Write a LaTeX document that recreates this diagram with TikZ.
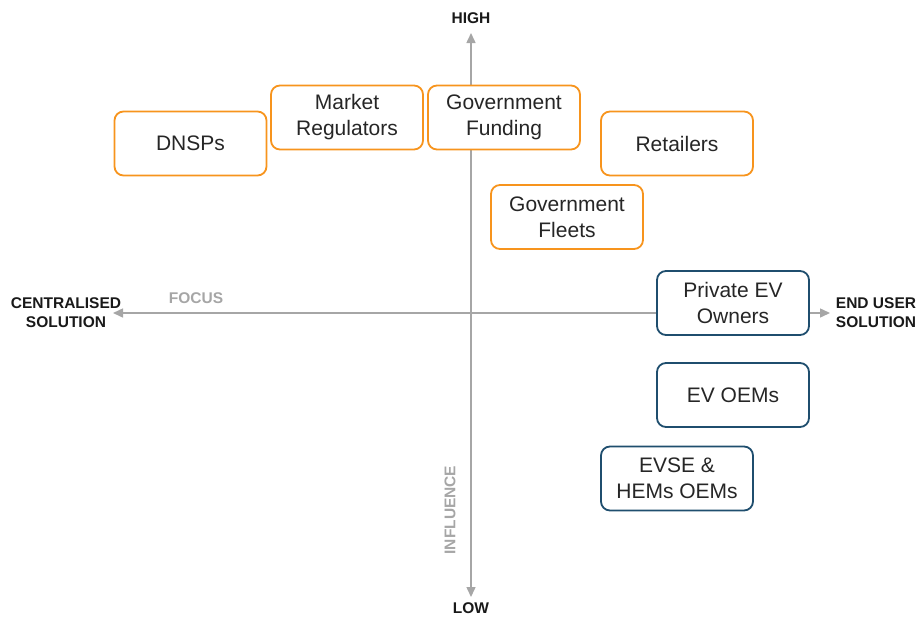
\documentclass[tikz,border=0pt]{standalone}
\usepackage{fontspec}
\setmainfont{Liberation Sans}
\usetikzlibrary{arrows.meta}
\definecolor{stkorange}{HTML}{F7941D}
\definecolor{stkblue}{HTML}{1F4E6E}
\definecolor{axisgrey}{HTML}{A6A6A6}
\newcommand{\axl}[1]{\textbf{#1}}
\begin{document}
\begin{tikzpicture}[x=1pt,y=-1pt,
    party/.style={draw,line width=1.8pt,rounded corners=9pt,fill=white,
      minimum width=152pt,minimum height=64pt,align=center,
      font=\fontsize{21}{26}\selectfont,text=black!85},
    central/.style={party,draw=stkorange},
    enduser/.style={party,draw=stkblue},
    axis/.style={axisgrey,line width=1.5pt,{Triangle[length=10pt,width=9pt]}-{Triangle[length=10pt,width=9pt]}},
    axislabel/.style={align=center,font=\fontsize{15.5}{19}\selectfont\bfseries,text=black!90},
    axisname/.style={font=\fontsize{15.5}{19}\selectfont\bfseries,text=axisgrey}]
  \useasboundingbox (0,0) rectangle (918,619);
  \coordinate (top) at (471,33);
  \coordinate (bottom) at (471,597);
  \coordinate (left) at (113,313);
  \coordinate (right) at (830,313);
  \draw[axis] (top) -- (bottom);
  \draw[axis] (left) -- (right);
  \node[axislabel] (high) at (471,18) {\axl{HIGH}};
  \node[axislabel] (low) at (471,608) {\axl{LOW}};
  \node[axislabel] (centralised) at (66,313) {\axl{CENTRALISED}\\\axl{SOLUTION}};
  \node[axislabel] (enduserlbl) at (876,313) {\axl{END USER}\\\axl{SOLUTION}};
  \node[axisname] (focus) at (196,298) {FOCUS};
  \node[axisname,rotate=90] (influence) at (450,510) {INFLUENCE};
  \node[central] (dnsps) at (190.5,143.5) {DNSPs};
  \node[central] (regulators) at (347,117.5) {Market\\Regulators};
  \node[central] (funding) at (504,117.5) {Government\\Funding};
  \node[central] (retailers) at (677,143.5) {Retailers};
  \node[central] (fleets) at (567,217) {Government\\Fleets};
  \node[enduser] (owners) at (733,303) {Private EV\\Owners};
  \node[enduser] (evoems) at (733,395) {EV OEMs};
  \node[enduser] (evse) at (677,478.5) {EVSE \&\\HEMs OEMs};
\end{tikzpicture}
\end{document}
